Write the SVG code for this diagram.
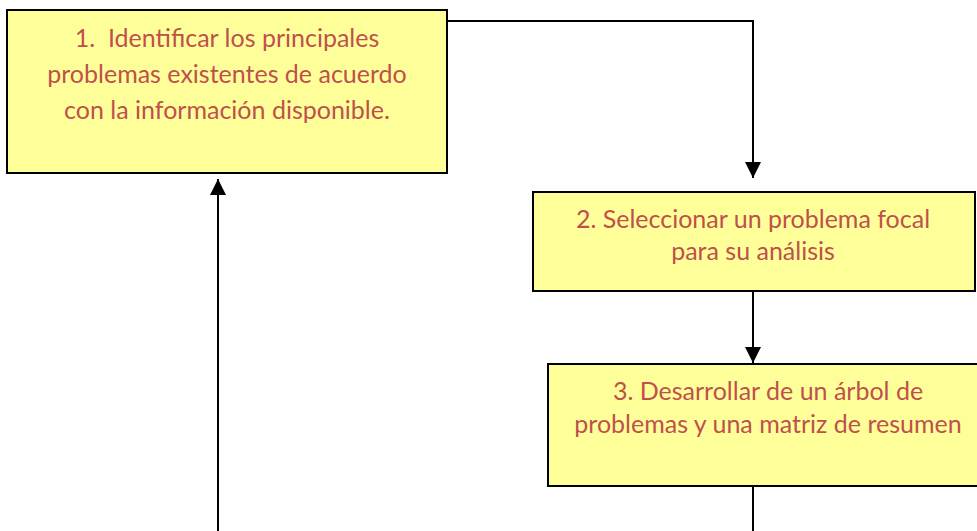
<svg xmlns="http://www.w3.org/2000/svg" width="977" height="531" viewBox="0 0 977 531">
<style>
.box{fill:#FFFF99;stroke:#000;stroke-width:2}
.t{font-family:Lato,"Liberation Sans",sans-serif;font-size:25px;fill:#C0504D;text-anchor:middle;white-space:pre}
.c{fill:none;stroke:#000;stroke-width:2}
</style>
<defs>
<marker id="ah" markerWidth="16" markerHeight="16" viewBox="0 0 16 16" refX="16" refY="8" orient="auto" markerUnits="userSpaceOnUse">
<path d="M0,0 L16,8 L0,16 Z" fill="#000"/>
</marker>
</defs>
<g id="n1">
<rect class="box" x="7" y="10" width="440" height="163"/>
<text class="t" x="227" y="47" xml:space="preserve">1.  Identificar los principales</text>
<text class="t" x="227" y="83">problemas existentes de acuerdo</text>
<text class="t" x="227" y="119">con la información disponible.</text>
</g>
<g id="n2">
<rect class="box" x="533" y="192" width="442" height="99"/>
<text class="t" x="753" y="228">2. Seleccionar un problema focal</text>
<text class="t" x="753" y="260">para su análisis</text>
</g>
<g id="n3">
<rect class="box" x="548" y="364" width="440" height="122"/>
<text class="t" x="768" y="400">3. Desarrollar de un árbol de</text>
<text class="t" x="768" y="433">problemas y una matriz de resumen</text>
</g>
<g id="connectors">
<path class="c" d="M447,21 H753 V178" marker-end="url(#ah)"/>
<path class="c" d="M753,291 V363" marker-end="url(#ah)"/>
<path class="c" d="M753,486 V531"/>
<path class="c" d="M218,531 V179" marker-end="url(#ah)"/>
</g>
</svg>
